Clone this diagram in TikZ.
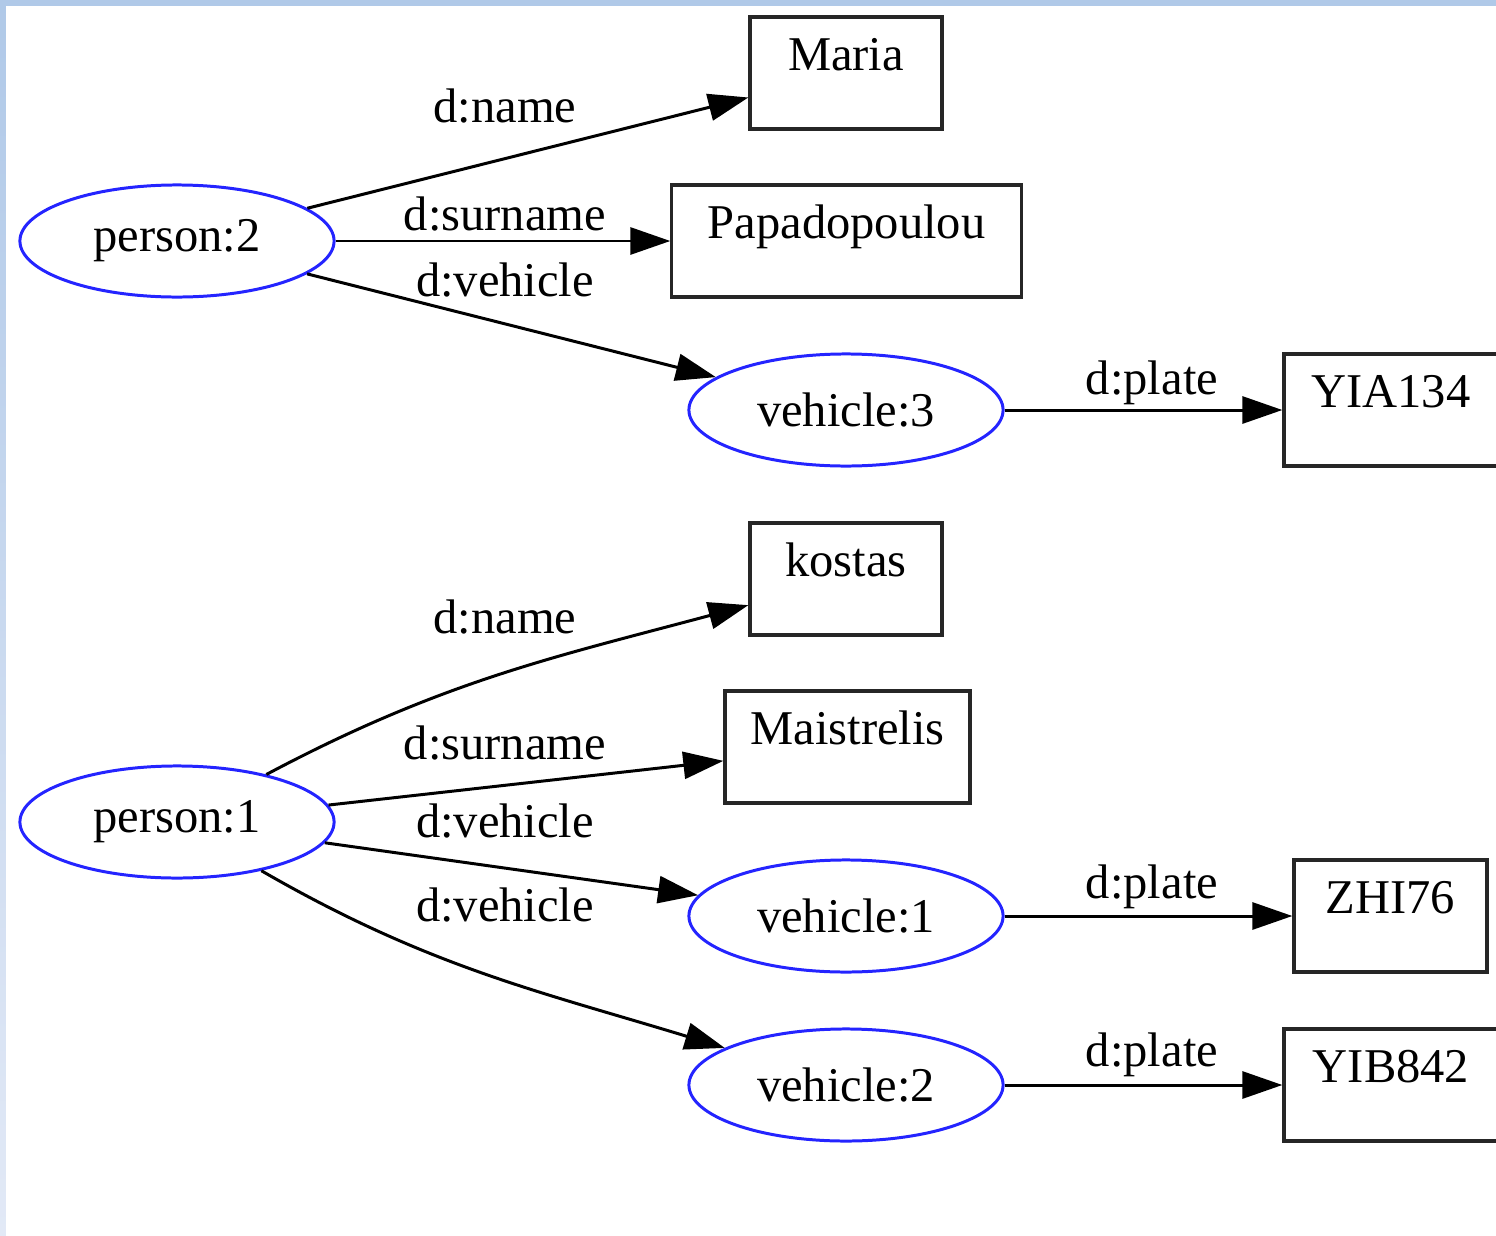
\documentclass[tikz,border=0pt]{standalone}
\usepackage{fontspec}
\setmainfont{Liberation Serif}
\usetikzlibrary{shapes.geometric,arrows.meta}
\definecolor{framebl}{RGB}{176,201,232}
\definecolor{framebl2}{RGB}{226,233,246}
\definecolor{resblue}{RGB}{36,36,255}

\begin{document}
\begin{tikzpicture}[x=0.01cm,y=-0.01cm]
	\tikzset{>={Triangle[length=4mm,width=2.7mm]}}
	\tikzset{res/.style={draw=resblue,ellipse,line width=0.85pt,minimum width=3.14cm,minimum height=1.12cm,font=\fontsize{13.8}{16}\selectfont}}
	\tikzset{lit/.style={draw=black!85,rectangle,line width=0.9pt,minimum height=1.12cm,text height=0.4cm,text depth=0.46cm,font=\fontsize{13.8}{16}\selectfont}}
	\tikzset{lbl/.style={inner sep=0pt,font=\fontsize{13.8}{16}\selectfont}}
	\tikzset{edge/.style={->,line width=0.85pt}}

  \useasboundingbox (0,0) rectangle (1496,1236);
  \fill[framebl] (0,0) rectangle (1496,6);
  \shade[top color=framebl,bottom color=framebl2] (0,0) rectangle (6,1236);

  % upper graph
  \node[res] (p2) at (177,241) {person:2};
  \node[lit,minimum width=1.92cm] (maria) at (846,73) {Maria};
  \node[lit,minimum width=3.49cm] (papa) at (846.5,241) {Papadopoulou};
  \node[res] (v3) at (846,410) {vehicle:3};
  \node[lit,minimum width=2.14cm] (yia) at (1391,410) {YIA134};

  \draw[edge] (p2) -- (maria);
  \draw[edge] (p2) -- (papa);
  \draw[edge] (p2) -- (v3);
  \draw[edge] (v3) -- (yia);

  \node[lbl] (l1) at (505,106) {d:name};
  \node[lbl] (l2) at (505,214) {d:surname};
  \node[lbl] (l3) at (505,280) {d:vehicle};
  \node[lbl] (l4) at (1152,383) {d:plate};

  % lower graph
  \node[res] (p1) at (177,822) {person:1};
  \node[lit,minimum width=1.92cm] (kostas) at (846,579) {kostas};
  \node[lit,minimum width=2.45cm] (maist) at (847.5,747) {Maistrelis};
  \node[res] (v1) at (846,916) {vehicle:1};
  \node[res] (v2) at (846,1085) {vehicle:2};
  \node[lit,minimum width=1.93cm] (zhi) at (1390.5,916) {ZHI76};
  \node[lit,minimum width=2.14cm] (yib) at (1391,1085) {YIB842};

  \draw[edge] (p1) to[out=28,in=195] (kostas);
  \draw[edge] (p1) -- (maist);
  \draw[edge] (p1) -- (v1);
  \draw[edge] (p1) to[out=-30,in=163] (v2);
  \draw[edge] (v1) -- (zhi);
  \draw[edge] (v2) -- (yib);

  \node[lbl] (l5) at (505,617) {d:name};
  \node[lbl] (l6) at (505,743) {d:surname};
  \node[lbl] (l7) at (505,821) {d:vehicle};
  \node[lbl] (l8) at (505,905) {d:vehicle};
  \node[lbl] (l9) at (1152,887) {d:plate};
  \node[lbl] (l10) at (1152,1055) {d:plate};

\end{tikzpicture}
\end{document}
